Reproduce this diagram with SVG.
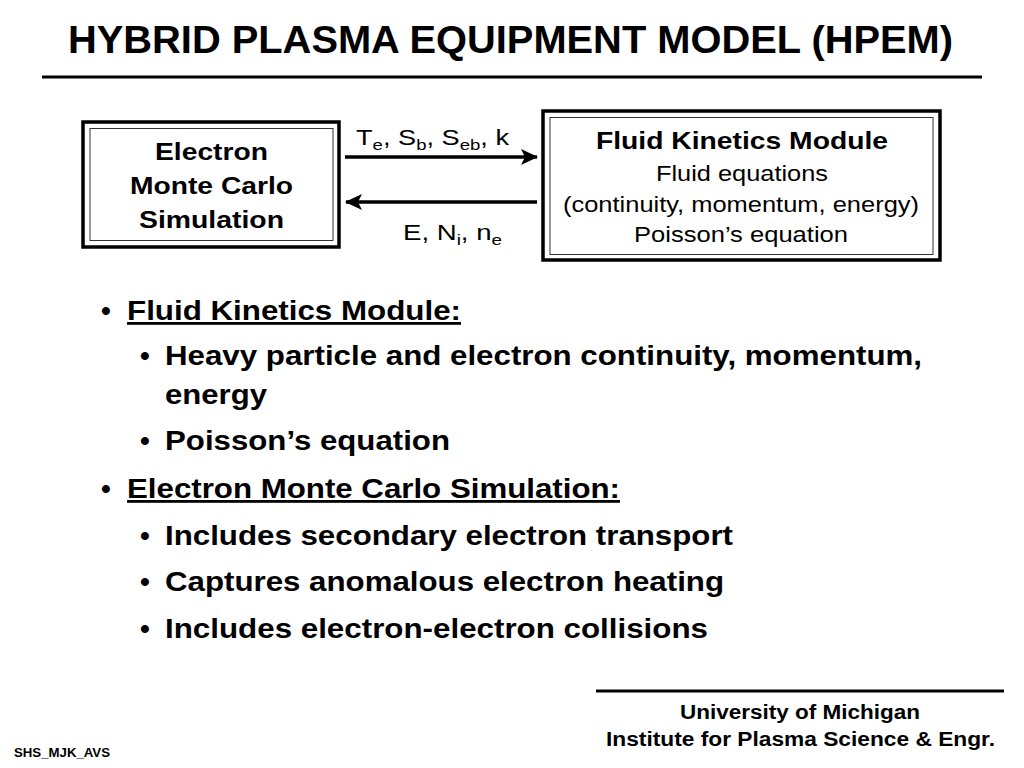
<svg xmlns="http://www.w3.org/2000/svg" width="1024" height="768" viewBox="0 0 1024 768">
<defs>
<marker id="ah" markerWidth="18" markerHeight="16" refX="16" refY="8" orient="auto" markerUnits="userSpaceOnUse">
<path d="M0,0 L17,8 L0,16 L4,8 Z" fill="#000"/>
</marker>
<style>
text{font-family:"Liberation Sans",Arial,sans-serif;fill:#000}
.b{font-weight:bold}
.outer{fill:#fff;stroke:#000;stroke-width:3.5}
.inner{fill:none;stroke:#333;stroke-width:1}
.node{font-size:24px;font-weight:bold}
.lbl{font-size:22px}
.bul{font-size:28px;font-weight:bold}
.conn{stroke:#000;stroke-width:3.5;fill:none}
</style>
</defs>
<rect width="1024" height="768" fill="#fff"/>
<text x="68" y="53" class="b" font-size="39" textLength="885" lengthAdjust="spacingAndGlyphs">HYBRID PLASMA EQUIPMENT MODEL (HPEM)</text>
<line x1="42" y1="77" x2="982" y2="77" stroke="#000" stroke-width="3"/>

<g id="emcs">
<rect class="outer" x="83" y="122" width="256" height="125"/>
<rect class="inner" x="90" y="128.5" width="243" height="112"/>
<text class="node" x="155" y="160" textLength="113" lengthAdjust="spacingAndGlyphs">Electron</text>
<text class="node" x="130" y="194" textLength="163" lengthAdjust="spacingAndGlyphs">Monte Carlo</text>
<text class="node" x="139" y="228" textLength="145" lengthAdjust="spacingAndGlyphs">Simulation</text>
</g>

<g id="fkm">
<rect class="outer" x="543" y="111" width="397" height="149"/>
<rect class="inner" x="550" y="117.5" width="383" height="137"/>
<text class="node" x="596" y="149" textLength="292" lengthAdjust="spacingAndGlyphs">Fluid Kinetics Module</text>
<text class="lbl" x="656" y="181" textLength="172" lengthAdjust="spacingAndGlyphs">Fluid equations</text>
<text class="lbl" x="563" y="212" textLength="356" lengthAdjust="spacingAndGlyphs">(continuity, momentum, energy)</text>
<text class="lbl" x="634" y="242" textLength="214" lengthAdjust="spacingAndGlyphs">Poisson’s equation</text>
</g>

<g id="connectors">
<line class="conn" x1="345" y1="157" x2="537" y2="157" marker-end="url(#ah)"/>
<line class="conn" x1="537" y1="202" x2="346" y2="202" marker-end="url(#ah)"/>
<text class="lbl" x="356" y="145" textLength="153" lengthAdjust="spacingAndGlyphs">T<tspan font-size="15" dy="5">e</tspan><tspan dy="-5">, S</tspan><tspan font-size="15" dy="5">b</tspan><tspan dy="-5">, S</tspan><tspan font-size="15" dy="5">eb</tspan><tspan dy="-5">, k</tspan></text>
<text class="lbl" x="403" y="240" textLength="99" lengthAdjust="spacingAndGlyphs">E, N<tspan font-size="15" dy="5">i</tspan><tspan dy="-5">, n</tspan><tspan font-size="15" dy="5">e</tspan></text>
</g>

<g id="bullets">
<text class="bul" x="101" y="320">•</text>
<text class="bul" x="127" y="320" text-decoration="underline" textLength="334" lengthAdjust="spacingAndGlyphs">Fluid Kinetics Module:</text>
<text class="bul" x="140" y="365">•</text>
<text class="bul" x="165" y="365" textLength="757" lengthAdjust="spacingAndGlyphs">Heavy particle and electron continuity, momentum,</text>
<text class="bul" x="165" y="404" textLength="102" lengthAdjust="spacingAndGlyphs">energy</text>
<text class="bul" x="140" y="450">•</text>
<text class="bul" x="165" y="450" textLength="285" lengthAdjust="spacingAndGlyphs">Poisson’s equation</text>
<text class="bul" x="101" y="498">•</text>
<text class="bul" x="127" y="498" text-decoration="underline" textLength="493" lengthAdjust="spacingAndGlyphs">Electron Monte Carlo Simulation:</text>
<text class="bul" x="140" y="545">•</text>
<text class="bul" x="165" y="545" textLength="568" lengthAdjust="spacingAndGlyphs">Includes secondary electron transport</text>
<text class="bul" x="140" y="591">•</text>
<text class="bul" x="165" y="591" textLength="559" lengthAdjust="spacingAndGlyphs">Captures anomalous electron heating</text>
<text class="bul" x="140" y="638">•</text>
<text class="bul" x="165" y="638" textLength="543" lengthAdjust="spacingAndGlyphs">Includes electron-electron collisions</text>
</g>

<line x1="596" y1="691" x2="1004" y2="691" stroke="#000" stroke-width="3"/>
<text class="b" x="680" y="719" font-size="20" textLength="240" lengthAdjust="spacingAndGlyphs">University of Michigan</text>
<text class="b" x="606" y="746" font-size="20" textLength="389" lengthAdjust="spacingAndGlyphs">Institute for Plasma Science &amp; Engr.</text>
<text class="b" x="14" y="757" font-size="12" textLength="96" lengthAdjust="spacingAndGlyphs">SHS_MJK_AVS</text>
</svg>
